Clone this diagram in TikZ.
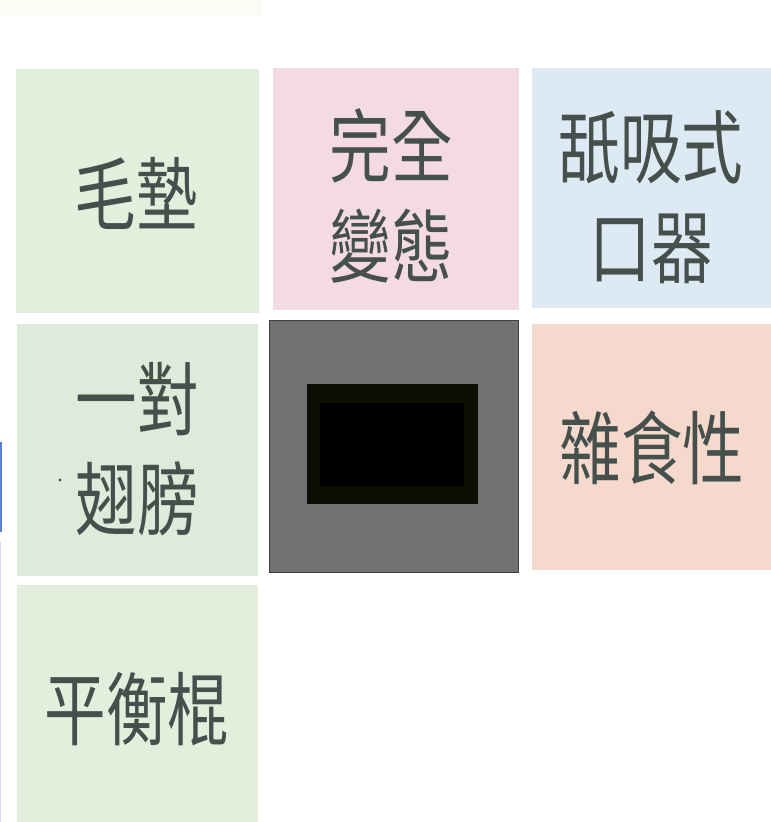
\documentclass[tikz,border=0pt]{standalone}
\usepackage{fontspec}
\newfontfamily\cjk{Noto Sans CJK TC}
\definecolor{tgreen}{HTML}{E3EEDC}
\definecolor{tgreenb}{HTML}{DCEBDA}
\definecolor{tpink}{HTML}{F4DAE4}
\definecolor{tblue}{HTML}{DEEAF3}
\definecolor{torange}{HTML}{F6D9CD}
\definecolor{tgray}{HTML}{6F7270}
\definecolor{txt}{HTML}{45504C}
\definecolor{edgeblue}{HTML}{5B80D2}
\definecolor{paleblue}{HTML}{D3DBF1}
\definecolor{topstrip}{HTML}{FBFCF3}
\definecolor{darkbox}{HTML}{0E0E02}
\tikzset{
  lbl/.style={font=\cjk\fontsize{80}{100}\selectfont, text=txt, align=center, inner sep=0pt, xscale=0.77},
}
\begin{document}
\begin{tikzpicture}[x=1pt,y=-1pt]
\useasboundingbox (0,0) rectangle (771,822);
\fill[white] (0,0) rectangle (771,822);
\fill[topstrip] (0,0) rectangle (262,15);
% tiles
\fill[tgreen] (16,69) rectangle (259,313);
\fill[tpink] (273,68) rectangle (519,310);
\fill[tblue] (532,68) rectangle (771,308);
\fill[tgreenb] (17,324) rectangle (258,576);
\fill[torange] (532,324) rectangle (771,570);
\fill[tgreen] (17,585) rectangle (258,822);
\draw[fill=tgray, draw=black!75, line width=0.8pt] (269,320) rectangle (518,572);
\fill[darkbox] (307,384) rectangle (478,504);
\fill[black] (320,403) rectangle (464,486);
% left edge marks
\fill[edgeblue] (0,442) rectangle (2,532);
\fill[paleblue] (0,542) rectangle (1,822);
% labels
\node[lbl] (a) at (136,193) {毛墊};
\node[lbl] (b) at (391,196) {完全\\變態};
\node[lbl] (c) at (651,197) {舐吸式\\口器};
\node[lbl] (d) at (137,449) {一對\\翅膀};
\node[lbl] (f) at (652,448) {雜食性};
\node[lbl] (g) at (137,709) {平衡棍};
\fill[txt] (60,480) circle (1.6);
\end{tikzpicture}
\end{document}
